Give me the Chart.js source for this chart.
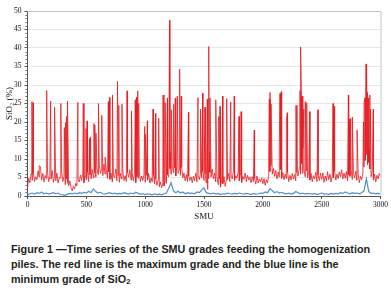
<!DOCTYPE html>
<html><head><meta charset="utf-8">
<script src="https://cdn.jsdelivr.net/npm/chart.js@4.4.1/dist/chart.umd.min.js"></script>
<style>
html,body{margin:0;padding:0;background:#fff;}
#wrap{position:relative;width:391px;height:294px;overflow:hidden;}
#box{position:absolute;left:0;top:0;width:391px;height:228px;}
#cap{position:absolute;left:11px;top:242px;width:380px;font:bold 10.8px "Liberation Sans",Arial,sans-serif;line-height:15px;color:#231f20;white-space:nowrap;}
#cap sub{font-size:7.5px;vertical-align:-1px;line-height:0;}
</style></head><body>
<div id="wrap">
<div id="box"><canvas id="c" width="391" height="228"></canvas></div>
<div id="cap">Figure 1 —Time series of the SMU grades feeding the homogenization<br>piles. The red line is the maximum grade and the blue line is the<br>minimum grade of SiO<sub>2</sub></div>
</div>
<script>
// SMU step of the baseline samples
const redStep = 10;
const blueStep = 20;
// Red (maximum grade) baseline, one value per 10 SMU
const redBase = [
2.1,4.8,3.6,5.9,4.2,6.3,3.9,5.2,4.4,6.8,
5.1,7.9,4.3,6.1,3.8,5.6,4.7,6.4,3.9,5.3,
4.6,6.9,3.7,5.4,4.1,6.2,3.5,5.1,4.8,6.6,
3.9,5.2,3.1,4.6,3.4,2.8,4.1,2.2,1.4,2.6,
1.9,3.4,2.7,4.5,3.8,5.7,4.2,6.1,3.6,5.4,
4.4,6.5,3.9,5.8,4.6,7.2,4.9,6.3,5.1,7.6,
5.8,8.2,6.1,7.4,5.5,8.6,5.9,7.1,4.8,6.6,
4.5,6.2,3.8,5.7,4.9,7.3,4.1,5.6,3.7,6.1,
4.6,6.8,4.2,5.5,3.9,6.4,5.1,7.1,4.3,5.9,
4.1,6.3,3.6,5.2,4.8,6.7,3.9,5.4,4.2,5.8,
3.7,5.6,4.3,6.1,3.5,4.9,3.8,5.7,3.3,4.6,
2.9,4.4,2.5,3.8,2.2,3.6,2.7,4.1,3.4,5.8,
5.2,7.4,5.9,8.1,6.3,7.6,5.4,8.3,6.1,7.2,
5.6,7.8,4.9,6.2,4.1,5.8,3.9,5.4,4.2,5.1,
3.6,5.3,4.1,6.2,3.8,5.5,4.4,6.1,4.9,6.6,
4.2,5.9,3.5,1.8,4.7,6.4,5.1,7.3,4.6,6.2,
3.8,5.4,3.1,4.6,2.4,4.1,3.3,5.2,2.6,4.3,
4.4,6.1,3.9,5.8,4.6,6.7,4.2,5.5,4.8,6.3,
4.1,5.9,3.7,5.3,4.5,6.2,3.8,5.6,4.3,5.1,
3.6,5.2,3.9,4.8,3.2,5.4,3.5,4.6,3.8,4.9,
3.3,4.7,2.9,4.4,3.5,5.8,6.6,8.2,5.9,7.4,
5.3,6.9,4.6,6.5,5.1,7.2,4.8,6.3,4.4,5.9,
4.7,6.4,3.9,5.6,4.3,6.1,4.6,5.8,4.1,6.3,
5.4,7.6,5.9,8.8,6.1,7.3,5.2,6.8,4.9,6.5,
4.3,6.1,3.8,5.5,4.6,6.4,3.9,5.7,4.2,6.2,
4.5,6.3,3.7,5.4,4.1,6.6,4.4,5.9,3.8,5.6,
4.9,6.8,4.3,5.9,4.7,6.5,5.2,7.1,4.6,6.2,
4.8,6.6,4.1,5.8,5.3,7.2,4.5,6.3,4.9,6.7,
4.2,5.9,3.6,5.3,4.4,6.1,7.8,9.6,11.2,8.4,
9.1,7.3,5.2,6.8,4.3,5.9,3.8,5.6,4.6,6.1,
5.2
];
// Red spikes: SMU position and peak grade
const spikeSMU = [38,49,100,163,197,230,283,313,323,332,340,428,474,497,506,527,536,565,572,582,603,631,660,687,699,722,765,776,803,846,884,916,926,937,945,996,1001,1019,1067,1088,1115,1152,1170,1189,1207,1212,1222,1240,1245,1256,1273,1290,1296,1307,1368,1449,1470,1489,1509,1528,1533,1540,1545,1551,1600,1625,1636,1659,1693,1727,1757,1798,1815,1927,2050,2055,2061,2070,2140,2146,2157,2200,2208,2282,2315,2316,2322,2329,2333,2340,2348,2361,2373,2399,2469,2597,2605,2727,2735,2747,2761,2801,2856,2860,2869,2877,2880,2885,2890,2895,2898,2905,2909,2916,2939];
const spikePeak = [25.5,25.2,8.2,28.5,25.6,24,25,18.5,19.8,21.5,25.6,25.3,25,18.2,20.3,15.5,16,19.6,19.2,17,25,21.8,10.5,25.5,26.6,27.3,31,24.5,24.8,28.4,23,26,26.7,28.4,25,18.8,16.7,20.3,23.5,22.3,21,27.3,25.2,26.5,47.5,12,23.3,24.8,14,26.5,27,13,34.3,27,22.6,26.6,23.5,27.8,24,26.2,11,40.4,12,26.5,26,21.5,24.2,27,26.3,25.4,27,21.5,22.8,17.8,10,26.2,28,24.8,14,27.7,28.2,20.3,22.5,24.5,12,28.5,40.3,26.5,27,13,23.5,25.5,25.2,22.8,23.3,25,24.3,27.3,20.8,21,21.3,17.8,20,25.2,26.5,35.7,15,34.2,28,14,26.5,12.5,27.3,23.5,23.5];
// Blue (minimum grade), one value per 20 SMU
const blueVals = [
0.3,0.6,0.8,0.5,0.9,0.7,1.1,0.6,0.8,0.5,
0.7,0.9,0.6,0.8,0.4,0.3,0.2,0.5,0.7,0.6,
0.8,0.6,0.9,0.7,1.0,0.8,1.3,0.9,1.9,1.2,
0.8,1.0,0.6,0.5,0.7,0.9,0.6,0.8,0.5,0.7,
0.6,0.9,0.7,0.5,0.8,0.6,1.0,0.7,0.5,0.6,
0.4,0.6,0.5,0.3,0.6,0.4,0.5,0.3,0.6,0.8,
2.1,3.6,1.4,0.9,1.3,0.8,1.1,0.6,0.9,0.7,
0.8,0.6,1.1,0.9,1.6,2.2,0.9,0.7,0.6,0.8,
0.5,0.7,0.4,0.6,0.5,0.8,0.6,0.5,0.7,0.6,
0.8,0.6,0.5,0.7,0.6,0.4,0.7,0.5,0.6,0.8,
0.7,1.1,0.9,2.0,1.5,0.9,1.2,0.8,1.0,0.7,
0.6,0.8,0.5,0.7,1.2,0.9,0.6,0.8,0.5,0.7,
0.6,0.5,0.7,0.4,0.6,0.8,0.5,0.6,0.4,0.7,
0.5,0.7,0.6,0.9,0.7,1.1,0.8,0.6,0.9,0.7,
0.8,0.6,0.9,1.4,4.6,1.2,0.7,0.8,0.6,0.7,
0.6
];
const xTicks = [0,500,1000,1500,2000,2500,3000];
const yTicks = [0,5,10,15,20,25,30,35,40,45,50];

const redData = redBase.map((v,i)=>({x:i*redStep,y:v}))
  .concat(spikeSMU.map((s,i)=>({x:s,y:spikePeak[i]})))
  .sort((a,b)=>a.x-b.x);
const blueData = blueVals.map((v,i)=>({x:i*blueStep,y:v}));

const serif = '"Liberation Serif","Times New Roman",serif';
const framePlugin = {
  id:'frame',
  afterDraw(chart){
    const {ctx, chartArea:a, scales} = chart;
    ctx.save();
    ctx.strokeStyle = '#c6c6c6'; ctx.lineWidth = 1;
    ctx.beginPath();
    ctx.moveTo(a.left, a.top+0.5); ctx.lineTo(a.right+0.5, a.top+0.5);
    ctx.lineTo(a.right+0.5, a.bottom);
    ctx.stroke();
    ctx.strokeStyle = '#666';
    ctx.beginPath();
    for (let v=0; v<=50; v++){
      if (v%5===0) continue;
      const y = Math.round(scales.y.getPixelForValue(v))+0.5;
      ctx.moveTo(a.left-2, y); ctx.lineTo(a.left, y);
    }
    ctx.stroke();
    ctx.restore();
  }
};

new Chart(document.getElementById('c'), {
  type:'line',
  data:{datasets:[
    {label:'Minimum', data:blueData, borderColor:'#4f8fcc', borderWidth:1.2, pointRadius:0, tension:0},
    {label:'Maximum', data:redData, borderColor:'rgba(230,28,34,0.9)', borderWidth:0.9, pointRadius:0, tension:0}
  ]},
  options:{
    responsive:false, animation:false, devicePixelRatio:1,
    layout:{padding:{top:11,right:10.5,left:0,bottom:0}},
    plugins:{legend:{display:false}, tooltip:{enabled:false}},
    scales:{
      x:{type:'linear', min:0, max:3000,
        afterBuildTicks(s){ s.ticks = xTicks.map(v=>({value:v})); },
        afterFit(s){ s.height = 32; },
        grid:{drawOnChartArea:false, drawTicks:true, tickLength:3, tickColor:'#555'},
        border:{color:'#555', width:1},
        ticks:{font:{family:serif,size:7.5}, color:'#111', padding:2, maxRotation:0, callback:(v)=>String(v)},
        title:{display:true, text:'SMU', font:{family:serif,size:9}, color:'#111', padding:{top:0,bottom:5.6}}
      },
      y:{min:0, max:50,
        afterBuildTicks(s){ s.ticks = yTicks.map(v=>({value:v})); },
        afterFit(s){ s.width = 27.5; },
        grid:{color:'#e6e6e6', tickColor:'#555', tickLength:3, lineWidth:1},
        border:{color:'#555', width:1},
        ticks:{font:{family:serif,size:7.5}, color:'#111', padding:3, callback:(v)=>String(v)},
        title:{display:true, text:'SiO₂ (%)', font:{family:serif,size:9}, color:'#111', padding:{top:4.6,bottom:0}}
      }
    }
  },
  plugins:[framePlugin]
});
</script>
</body></html>
